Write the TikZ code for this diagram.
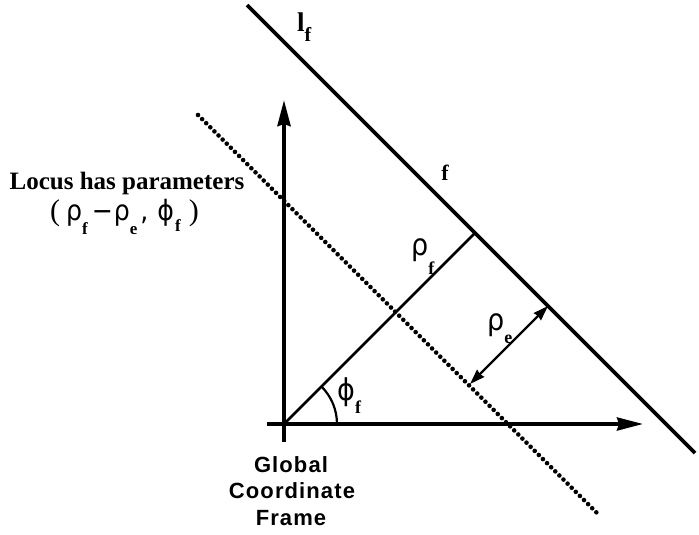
\documentclass[tikz,border=0pt]{standalone}
\usepackage{fontspec}
\setmainfont{Liberation Serif}
\newfontfamily\grfont{DejaVu Sans Condensed}
\newfontfamily\hvfont[LetterSpace=5]{Liberation Sans}
\usetikzlibrary{arrows.meta}
\newcommand\subf[3][18]{\raisebox{#2}{\fontsize{#1}{#1}\selectfont\bfseries #3}}
\newcommand\gk[1]{{\grfont\fontsize{28}{28}\selectfont #1}}
\begin{document}
\begin{tikzpicture}[x=1pt,y=-1pt,
  axis/.style={-{Stealth[length=26pt,width=13pt,inset=2pt]}},
  thick line/.style={line width=3.8pt},
  perp/.style={line width=2.5pt},
  dotline/.style={line width=4.6pt,line cap=round,dash pattern=on 0pt off 5.8pt},
  dbl/.style={line width=2.2pt,{Stealth[length=15pt,width=10pt,inset=1pt]}-{Stealth[length=15pt,width=10pt,inset=1pt]}},
  lbl/.style={inner sep=0pt,font=\fontsize{30}{30}\selectfont},
  gfont/.style={inner sep=0pt,anchor=base,font=\fontsize{22}{22}\selectfont\hvfont\bfseries}
]
\useasboundingbox (0,0) rectangle (699,535);
% key points
\coordinate (O) at (284,424);
\coordinate (ytop) at (284,100);
\coordinate (ybot) at (284,442);
\coordinate (xleft) at (267,424);
\coordinate (xtip) at (643,424);
\coordinate (F) at (475,233);
\coordinate (lfA) at (247,5);
\coordinate (lfB) at (695,453);
\coordinate (dA) at (198,115);
\coordinate (dB) at (597,513);
\coordinate (eA) at (548,306);
\coordinate (eB) at (470,384);
\coordinate (arc0) at (337,424);
% axes
\draw[line width=4pt] (ybot) -- (O);
\draw[axis,line width=4pt] (O) -- (ytop);
\draw[line width=3.4pt] (xleft) -- (O);
\draw[axis,line width=3.4pt] (O) -- (xtip);
% line l_f
\draw[thick line] (lfA) -- (lfB);
% dotted locus
\draw[dotline] (dA) -- (dB);
% perpendicular
\draw[perp] (O) -- (F);
% rho_e arrow
\draw[dbl] (eB) -- (eA);
% angle arc
\draw[line width=2.2pt] (arc0) arc[start angle=0,end angle=-45,radius=53];
% labels
\node[inner sep=0pt,anchor=base west] (lf) at (297,32) {\fontsize{27}{27}\selectfont\bfseries l\subf[20]{-10pt}{f}};
\node[inner sep=0pt,anchor=base] (fl) at (445,180) {\fontsize{22}{22}\selectfont\bfseries f};
\node[lbl,anchor=base west] (rf) at (411,255) {{\grfont ρ}\subf{-19pt}{f}};
\node[lbl,anchor=base west] (re) at (487,330) {{\grfont ρ}\subf{-13pt}{e}};
\node[lbl,anchor=base west] (pf) at (337,400) {{\grfont ϕ}\subf{-13pt}{f}};
\node[inner sep=0pt,anchor=base] (locus) at (127,189) {\fontsize{25}{25}\selectfont\bfseries Locus has parameters};
\node[inner sep=0pt,anchor=base west,font=\fontsize{30}{30}\selectfont] (par) at (50,220)
  {(\kern6pt\gk{ρ}\subf[17]{-14pt}{f}\kern4pt\gk{−}\kern1pt\gk{ρ}\subf[17]{-14pt}{e}\kern3pt\gk{,}\kern9pt\gk{ϕ}\kern1pt\subf[17]{-11pt}{f}\kern8pt)};
\node[gfont] (g1) at (291,472) {Global};
\node[gfont] (g2) at (292,498) {Coordinate};
\node[gfont] (g3) at (291,525) {Frame};
\end{tikzpicture}
\end{document}
